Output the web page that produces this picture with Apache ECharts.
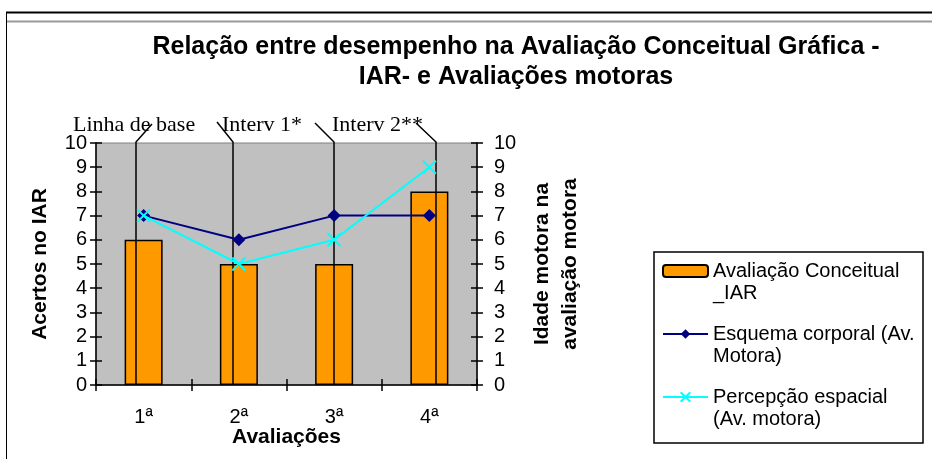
<!DOCTYPE html>
<html>
<head>
<meta charset="utf-8">
<script src="https://cdn.jsdelivr.net/npm/echarts@6/dist/echarts.min.js"></script>
<style>
  html, body { margin: 0; padding: 0; background: #ffffff; }
  #chart { width: 932px; height: 459px; }
</style>
</head>
<body>
<div id="chart"></div>
<script>
// Evaluations (x categories)
const categories = ['1ª', '2ª', '3ª', '4ª'];

// Correct answers in the IAR (left axis)
const conceitualIAR = [6, 5, 5, 8];

// Motor age in the motor assessment (right axis)
const esquemaCorporal = [7, 6, 7, 7];
const percepcaoEspacial = [7, 5, 6, 9];

// Series names as shown in the legend
const seriesNames = [
  'Avaliação Conceitual\n_IAR',
  'Esquema corporal (Av.\nMotora)',
  'Percepção espacial\n(Av. motora)'
];

// Phase callouts above the plot
const phaseLabels = ['Linha de base', 'Interv 1*', 'Interv 2**'];

const sans = '"Liberation Sans", Arial, sans-serif';
const serif = '"Liberation Serif", "Times New Roman", serif';

const chart = echarts.init(document.getElementById('chart'), null, { renderer: 'canvas' });

const gridBox = { left: 96, right: 455, top: 143, bottom: 74 };
const tickStyle = { color: '#000', width: 1.5 };

function valueAxis(position, opts) {
  return Object.assign({
    type: 'value',
    position: position,
    min: 0,
    max: 10,
    interval: 1,
    splitLine: { show: false },
    axisLine: { show: true, lineStyle: tickStyle },
    axisTick: { show: true, length: 6, lineStyle: tickStyle },
    axisLabel: { show: true, color: '#000', fontFamily: sans, fontSize: 20, margin: 9 }
  }, opts);
}

// inner half of a crossing tick mark
const innerTicks = { show: true, inside: true, length: 6, lineStyle: tickStyle };

const option = {
  backgroundColor: '#ffffff',
  animation: false,
  title: {
    text: 'Relação entre desempenho na Avaliação Conceitual Gráfica -\nIAR- e Avaliações motoras',
    left: 516,
    top: 32,
    padding: 0,
    textAlign: 'center',
    textStyle: { fontFamily: sans, fontWeight: 'bold', fontSize: 25, lineHeight: 30, color: '#000' }
  },
  legend: {
    orient: 'vertical',
    left: 662,
    top: 238,
    padding: 0,
    itemWidth: 45,
    itemHeight: 12,
    itemGap: -3,
    formatter: '\n{name}',
    textStyle: { fontFamily: sans, fontSize: 20, lineHeight: 22, color: '#000' },
    data: seriesNames
  },
  grid: Object.assign({
    show: true,
    backgroundColor: '#c0c0c0',
    borderColor: '#808080',
    borderWidth: 1,
    containLabel: false
  }, gridBox),
  xAxis: [
    {
      type: 'category',
      data: categories,
      position: 'bottom',
      name: 'Avaliações',
      nameLocation: 'middle',
      nameGap: 42,
      nameMoveOverlap: false,
      nameTextStyle: { fontFamily: sans, fontWeight: 'bold', fontSize: 21, color: '#000' },
      axisLine: { show: true, lineStyle: tickStyle },
      axisTick: { show: true, length: 6, lineStyle: tickStyle },
      axisLabel: { color: '#000', fontFamily: sans, fontSize: 20, margin: 22 },
      splitLine: { show: false }
    },
    {
      type: 'category',
      data: categories,
      position: 'bottom',
      axisLine: { show: false },
      axisTick: innerTicks,
      axisLabel: { show: false },
      splitLine: { show: false }
    }
  ],
  yAxis: [
    valueAxis('left', {
      name: 'Acertos no IAR',
      nameLocation: 'middle',
      nameRotate: 90,
      nameGap: 45,
      nameTextStyle: { fontFamily: sans, fontWeight: 'bold', fontSize: 21, color: '#000' }
    }),
    valueAxis('right', {
      name: 'Idade motora na\navaliação motora',
      nameLocation: 'middle',
      nameRotate: 90,
      nameGap: 51,
      axisLabel: { show: true, color: '#000', fontFamily: sans, fontSize: 20, margin: 17 },
      nameTextStyle: { fontFamily: sans, fontWeight: 'bold', fontSize: 21, lineHeight: 28, color: '#000' }
    }),
    valueAxis('left', { axisLine: { show: false }, axisLabel: { show: false }, axisTick: innerTicks }),
    valueAxis('right', { axisLine: { show: false }, axisLabel: { show: false }, axisTick: innerTicks })
  ],
  series: [
    {
      name: seriesNames[0],
      type: 'bar',
      xAxisIndex: 0,
      yAxisIndex: 0,
      data: conceitualIAR,
      barWidth: 38,
      z: 2,
      itemStyle: { color: '#ff9900', borderColor: '#000', borderWidth: 1.5 }
    },
    {
      name: seriesNames[1],
      type: 'line',
      xAxisIndex: 0,
      yAxisIndex: 1,
      data: esquemaCorporal,
      symbol: 'diamond',
      symbolSize: 13,
      z: 5,
      lineStyle: { color: '#000080', width: 2 },
      itemStyle: { color: '#000080' }
    },
    {
      name: seriesNames[2],
      type: 'line',
      xAxisIndex: 0,
      yAxisIndex: 1,
      data: percepcaoEspacial,
      symbol: 'path://M0,0L10,10M10,0L0,10',
      symbolSize: 13,
      z: 6,
      lineStyle: { color: '#00ffff', width: 2 },
      itemStyle: { color: '#00ffff', borderColor: '#00ffff', borderWidth: 2 }
    }
  ]
};

chart.setOption(option);

// Frame lines along the top and left edge, plus the legend box
const frame = [
  { type: 'line', shape: { x1: 6, y1: 12.5, x2: 932, y2: 12.5 }, style: { stroke: '#000', lineWidth: 2 }, z: 10 },
  { type: 'line', shape: { x1: 6, y1: 21.5, x2: 932, y2: 21.5 }, style: { stroke: '#9a9a9a', lineWidth: 2 }, z: 10 },
  { type: 'line', shape: { x1: 6.5, y1: 12, x2: 6.5, y2: 459 }, style: { stroke: '#000', lineWidth: 1 }, z: 10 },
  { type: 'rect', shape: { x: 654, y: 252, width: 269, height: 191 }, style: { stroke: '#000', lineWidth: 1.5, fill: null }, z: 10 }
];

// Phase callouts: a leader line from the label down to the bottom of the plot
const yBottom = chart.convertToPixel({ yAxisIndex: 0 }, 0);
const yTop = chart.convertToPixel({ yAxisIndex: 0 }, 10);
const callouts = [
  { lx: 136, tx: 152, ty: 124 },
  { lx: 233, tx: 217, ty: 122 },
  { lx: 334, tx: 315, ty: 123 },
  { lx: 436, tx: 416, ty: 123 }
];
const calloutGraphics = [];
callouts.forEach(function (c) {
  calloutGraphics.push({
    type: 'polyline', z: 4, silent: true,
    shape: { points: [[c.tx, c.ty], [c.lx, yTop - 1], [c.lx, yBottom]] },
    style: { stroke: '#000', lineWidth: 1.5, fill: null }
  });
});
const labelX = [73, 222, 332];
phaseLabels.forEach(function (t, i) {
  calloutGraphics.push({
    type: 'text', z: 4, silent: true,
    x: labelX[i], y: 125,
    style: { text: t, font: '22px ' + serif, fill: '#000', verticalAlign: 'middle', align: 'left' }
  });
});

chart.setOption({ graphic: frame.concat(calloutGraphics) });
</script>
</body>
</html>
